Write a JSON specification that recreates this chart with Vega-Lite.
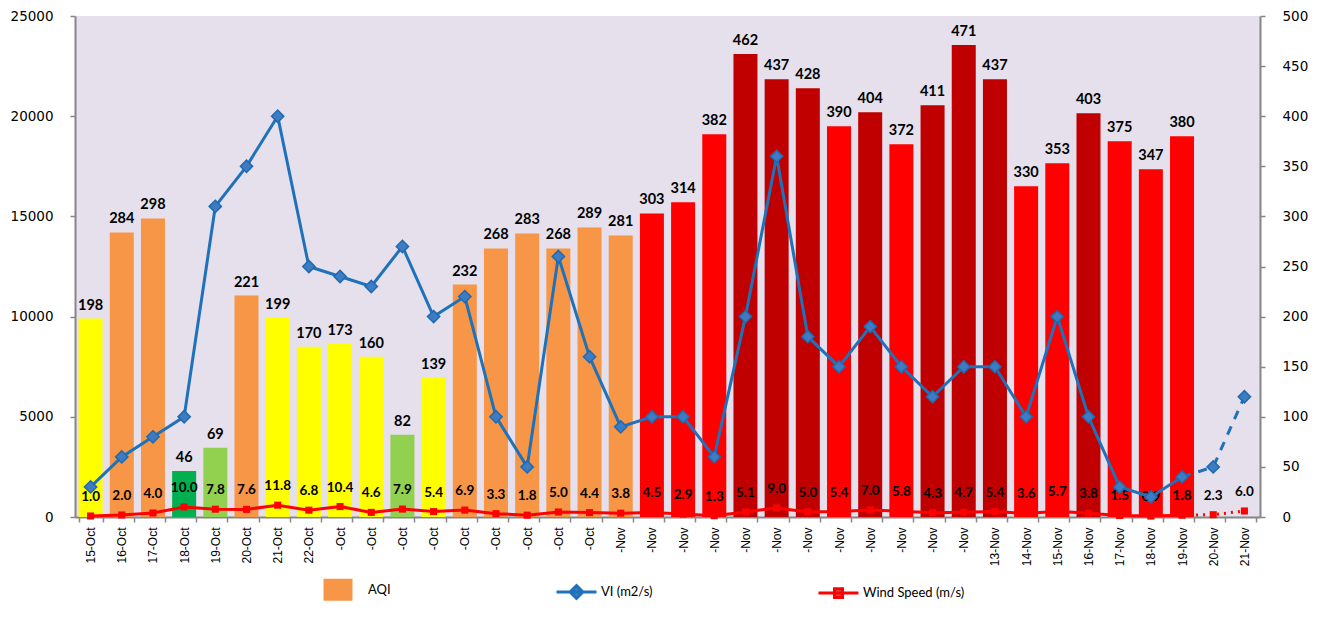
{
  "$schema": "https://vega.github.io/schema/vega-lite/v6.json",
  "width": 1185,
  "height": 501,
  "autosize": {"type": "none"},
  "padding": {"left": 75, "top": 16, "right": 66, "bottom": 107},
  "background": "white",
  "config": {
    "view": {"fill": "#E5E0EC", "stroke": null},
    "axis": {"grid": false, "domainColor": "#868686", "domainWidth": 2, "tickColor": "#868686", "tickWidth": 1.5, "tickSize": 5, "labelColor": "black", "title": null},
    "legend": {
      "orient": "none",
      "legendX": 247,
      "legendY": 552,
      "direction": "horizontal",
      "padding": 0,
      "symbolSize": 1600,
      "symbolStrokeWidth": 3,
      "symbolOpacity": 1,
      "columnPadding": 159,
      "labelFont": "Lato",
      "labelFontSize": 13,
      "labelColor": "black",
      "labelOffset": 3
    }
  },
  "data": {
    "values": [
      {"date": "15-Oct", "aqi": 198, "cat": "Moderate", "vi": 1500, "wind": 1.0},
      {"date": "16-Oct", "aqi": 284, "cat": "Poor", "vi": 3000, "wind": 2.0},
      {"date": "17-Oct", "aqi": 298, "cat": "Poor", "vi": 4000, "wind": 4.0},
      {"date": "18-Oct", "aqi": 46, "cat": "Good", "vi": 5000, "wind": 10.0},
      {"date": "19-Oct", "aqi": 69, "cat": "Satisfactory", "vi": 15500, "wind": 7.8},
      {"date": "20-Oct", "aqi": 221, "cat": "Poor", "vi": 17500, "wind": 7.6},
      {"date": "21-Oct", "aqi": 199, "cat": "Moderate", "vi": 20000, "wind": 11.8},
      {"date": "22-Oct", "aqi": 170, "cat": "Moderate", "vi": 12500, "wind": 6.8},
      {"date": "23-Oct", "aqi": 173, "cat": "Moderate", "vi": 12000, "wind": 10.4},
      {"date": "24-Oct", "aqi": 160, "cat": "Moderate", "vi": 11500, "wind": 4.6},
      {"date": "25-Oct", "aqi": 82, "cat": "Satisfactory", "vi": 13500, "wind": 7.9},
      {"date": "26-Oct", "aqi": 139, "cat": "Moderate", "vi": 10000, "wind": 5.4},
      {"date": "27-Oct", "aqi": 232, "cat": "Poor", "vi": 11000, "wind": 6.9},
      {"date": "28-Oct", "aqi": 268, "cat": "Poor", "vi": 5000, "wind": 3.3},
      {"date": "29-Oct", "aqi": 283, "cat": "Poor", "vi": 2500, "wind": 1.8},
      {"date": "30-Oct", "aqi": 268, "cat": "Poor", "vi": 13000, "wind": 5.0},
      {"date": "31-Oct", "aqi": 289, "cat": "Poor", "vi": 8000, "wind": 4.4},
      {"date": "1-Nov", "aqi": 281, "cat": "Poor", "vi": 4500, "wind": 3.8},
      {"date": "2-Nov", "aqi": 303, "cat": "Very Poor", "vi": 5000, "wind": 4.5},
      {"date": "3-Nov", "aqi": 314, "cat": "Very Poor", "vi": 5000, "wind": 2.9},
      {"date": "4-Nov", "aqi": 382, "cat": "Very Poor", "vi": 3000, "wind": 1.3},
      {"date": "5-Nov", "aqi": 462, "cat": "Severe", "vi": 10000, "wind": 5.1},
      {"date": "6-Nov", "aqi": 437, "cat": "Severe", "vi": 18000, "wind": 9.0},
      {"date": "7-Nov", "aqi": 428, "cat": "Severe", "vi": 9000, "wind": 5.0},
      {"date": "8-Nov", "aqi": 390, "cat": "Very Poor", "vi": 7500, "wind": 5.4},
      {"date": "9-Nov", "aqi": 404, "cat": "Severe", "vi": 9500, "wind": 7.0},
      {"date": "10-Nov", "aqi": 372, "cat": "Very Poor", "vi": 7500, "wind": 5.8},
      {"date": "11-Nov", "aqi": 411, "cat": "Severe", "vi": 6000, "wind": 4.3},
      {"date": "12-Nov", "aqi": 471, "cat": "Severe", "vi": 7500, "wind": 4.7},
      {"date": "13-Nov", "aqi": 437, "cat": "Severe", "vi": 7500, "wind": 5.4},
      {"date": "14-Nov", "aqi": 330, "cat": "Very Poor", "vi": 5000, "wind": 3.6},
      {"date": "15-Nov", "aqi": 353, "cat": "Very Poor", "vi": 10000, "wind": 5.7},
      {"date": "16-Nov", "aqi": 403, "cat": "Severe", "vi": 5000, "wind": 3.8},
      {"date": "17-Nov", "aqi": 375, "cat": "Very Poor", "vi": 1500, "wind": 1.5},
      {"date": "18-Nov", "aqi": 347, "cat": "Very Poor", "vi": 1000, "wind": 0.9},
      {"date": "19-Nov", "aqi": 380, "cat": "Very Poor", "vi": 2000, "wind": 1.8},
      {"date": "20-Nov", "aqi": null, "cat": null, "vi": 2500, "wind": 2.3},
      {"date": "21-Nov", "aqi": null, "cat": null, "vi": 6000, "wind": 6.0}
    ]
  },
  "encoding": {
    "x": {
      "field": "date",
      "type": "ordinal",
      "sort": null,
      "scale": {"paddingInner": 0.23, "paddingOuter": 0.115},
      "axis": {
        "labelAngle": -90,
        "labelFont": "Liberation Sans",
        "labelFontSize": 12,
        "labelPadding": 5,
        "tickBand": "extent",
        "labelExpr": "test(/^((2[3-9]|3[01])-Oct|([1-9]|1[0-2])-Nov)$/, datum.value) ? replace(datum.value, /^[0-9]+/, '') : datum.value"
      }
    }
  },
  "layer": [
    {
      "layer": [
        {
          "transform": [{"filter": "isValid(datum.aqi)"}],
          "mark": {"type": "bar"},
          "encoding": {
            "y": {
              "field": "aqi", "type": "quantitative",
              "scale": {"domain": [0, 500], "nice": false},
              "axis": {"orient": "right", "values": [0, 50, 100, 150, 200, 250, 300, 350, 400, 450, 500], "labelFont": "DejaVu Sans", "labelFontSize": 13.5, "labelPadding": 17, "title": null}
            },
            "color": {
              "field": "cat", "type": "nominal",
              "scale": {"domain": ["Good", "Satisfactory", "Moderate", "Poor", "Very Poor", "Severe"], "range": ["#00B050", "#92D050", "#FFFF00", "#F79646", "#FF0000", "#C00000"]},
              "legend": null
            }
          }
        },
        {
          "transform": [{"filter": "isValid(datum.aqi)"}],
          "mark": {"type": "text", "font": "Lato", "fontWeight": "bold", "fontSize": 14.5, "baseline": "alphabetic", "dy": -9, "color": "black"},
          "encoding": {
            "y": {"field": "aqi", "type": "quantitative"},
            "text": {"field": "aqi", "type": "quantitative"}
          }
        },
        {
          "transform": [{"filter": {"not": {"field": "date", "oneOf": ["20-Nov", "21-Nov"]}}}],
          "mark": {"type": "line", "strokeWidth": 3},
          "encoding": {
            "y": {"field": "wind", "type": "quantitative"},
            "stroke": {"datum": "Wind Speed (m/s)"}
          }
        },
        {
          "transform": [{"filter": {"field": "date", "oneOf": ["19-Nov", "20-Nov", "21-Nov"]}}],
          "mark": {"type": "line", "strokeWidth": 3, "strokeDash": [2, 5]},
          "encoding": {
            "y": {"field": "wind", "type": "quantitative"},
            "stroke": {"datum": "Wind Speed (m/s)"}
          }
        },
        {
          "mark": {"type": "point", "shape": "square", "filled": true, "size": 50, "color": "#FF0000", "opacity": 1},
          "encoding": {
            "y": {"field": "wind", "type": "quantitative"}
          }
        },
        {
          "mark": {"type": "text", "font": "Lato", "fontWeight": "bold", "fontSize": 13.5, "baseline": "alphabetic", "dy": -15, "color": "black"},
          "encoding": {
            "y": {"field": "wind", "type": "quantitative"},
            "text": {"field": "wind", "type": "quantitative", "format": ".1f"}
          }
        }
      ]
    },
    {
      "layer": [
        {
          "transform": [{"filter": {"not": {"field": "date", "oneOf": ["20-Nov", "21-Nov"]}}}],
          "mark": {"type": "line", "strokeWidth": 3},
          "encoding": {
            "y": {
              "field": "vi", "type": "quantitative",
              "scale": {"domain": [0, 25000], "nice": false},
              "axis": {"orient": "left", "values": [0, 5000, 10000, 15000, 20000, 25000], "format": "d", "labelFont": "DejaVu Sans", "labelFontSize": 13.5, "labelPadding": 17, "title": null}
            },
            "stroke": {
              "datum": "VI (m2/s)",
              "scale": {"domain": ["AQI", "VI (m2/s)", "Wind Speed (m/s)"], "range": ["transparent", "#1F72BA", "#FF0000"]},
              "legend": {"title": null}
            }
          }
        },
        {
          "transform": [{"filter": {"field": "date", "oneOf": ["19-Nov", "20-Nov", "21-Nov"]}}],
          "mark": {"type": "line", "strokeWidth": 3, "strokeDash": [9, 8]},
          "encoding": {
            "y": {"field": "vi", "type": "quantitative"},
            "stroke": {"datum": "VI (m2/s)"}
          }
        },
        {
          "mark": {"type": "point", "shape": "diamond", "filled": true, "size": 150, "fill": "#3D7CC2", "stroke": "#1F6AB0", "strokeWidth": 1.5, "opacity": 1},
          "encoding": {
            "y": {"field": "vi", "type": "quantitative"}
          }
        },
        {
          "transform": [{"filter": "datum.vi < 0"}],
          "mark": {"type": "point", "filled": true},
          "encoding": {
            "y": {"field": "vi", "type": "quantitative"},
            "shape": {
              "datum": "VI (m2/s)",
              "scale": {"domain": ["AQI", "VI (m2/s)", "Wind Speed (m/s)"], "range": ["M-1,-0.55H0.45V0.55H-1Z", "M-1,0H1M0,-0.32L0.32,0L0,0.32L-0.32,0Z", "M-1,0H1M-0.2,-0.22H0.2V0.22H-0.2Z"]},
              "legend": {"title": null}
            },
            "fill": {
              "datum": "VI (m2/s)",
              "scale": {"domain": ["AQI", "VI (m2/s)", "Wind Speed (m/s)"], "range": ["#F79646", "#3D7CC2", "#C0504D"]},
              "legend": {"title": null}
            }
          }
        }
      ]
    }
  ],
  "resolve": {"scale": {"y": "independent"}}
}
